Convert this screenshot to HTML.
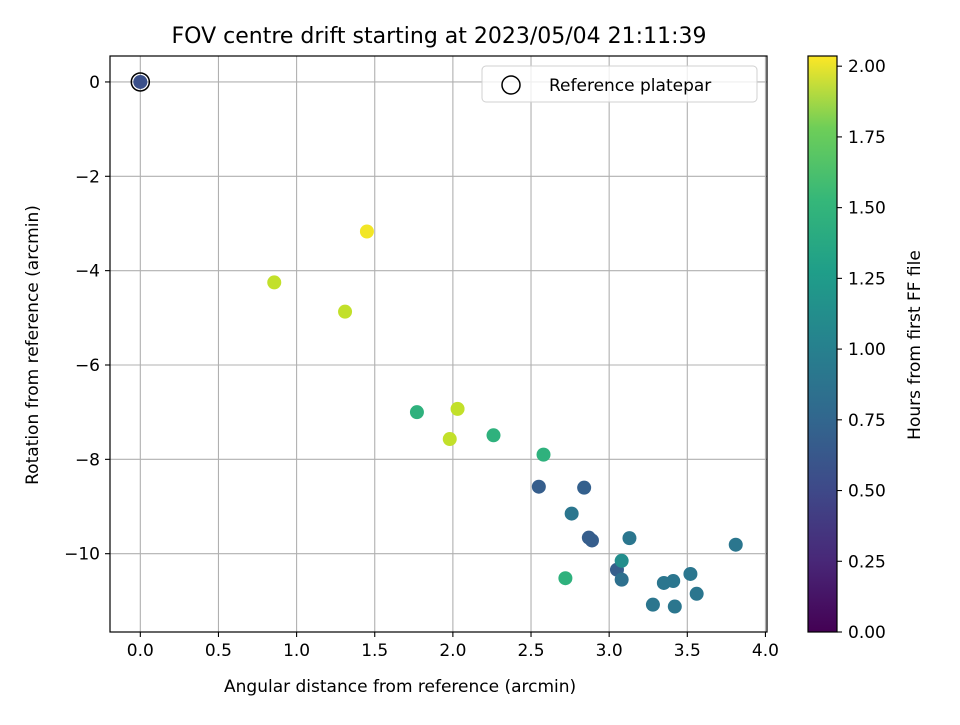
<!DOCTYPE html>
<html><head><meta charset="utf-8"><style>
body{margin:0;background:#fff;font-family:"Liberation Sans","DejaVu Sans",sans-serif}
svg text{font-family:"DejaVu Sans","Liberation Sans",sans-serif;fill:#000}
</style></head><body>
<svg id="chart" width="960" height="720" xmlns="http://www.w3.org/2000/svg">
<rect width="960" height="720" fill="#fff"/>
<text x="439" y="43" font-size="22" text-anchor="middle">FOV centre drift starting at 2023/05/04 21:11:39</text>
<g id="grid"></g><g id="pts"></g><g id="axes"></g>
<g>
<rect x="482" y="66" width="275" height="36" rx="4" fill="#fff" fill-opacity="0.8" stroke="#d0d0d0"/>
<circle cx="511" cy="85" r="9" fill="none" stroke="#000" stroke-width="1.5"/>
<text x="549" y="91" font-size="17">Reference platepar</text>
</g>
<defs><linearGradient id="vir" x1="0" y1="1" x2="0" y2="0">
<stop offset="0" stop-color="#440154"/><stop offset="0.125" stop-color="#482878"/><stop offset="0.25" stop-color="#3e4a89"/><stop offset="0.375" stop-color="#31688e"/><stop offset="0.5" stop-color="#26828e"/><stop offset="0.625" stop-color="#1f9e89"/><stop offset="0.75" stop-color="#35b779"/><stop offset="0.875" stop-color="#6ece58"/><stop offset="1" stop-color="#fde725"/>
</linearGradient></defs>
<g id="cbar"></g>
<text x="224" y="692" font-size="17">Angular distance from reference (arcmin)</text>
<text transform="translate(38,345) rotate(-90)" font-size="17" text-anchor="middle">Rotation from reference (arcmin)</text>
<text transform="translate(920,345) rotate(-90)" font-size="17" text-anchor="middle">Hours from first FF file</text>
</svg>
<script>
const xVals=[0,1.45,0.857,1.31,1.77,2.03,1.98,2.26,2.58,2.55,2.84,2.76,2.89,2.87,3.13,3.81,3.05,3.08,3.08,2.72,3.35,3.41,3.52,3.56,3.28,3.42];
const yVals=[0,-3.17,-4.25,-4.87,-7.0,-6.93,-7.57,-7.49,-7.9,-8.58,-8.6,-9.15,-9.72,-9.66,-9.67,-9.81,-10.34,-10.15,-10.55,-10.52,-10.62,-10.58,-10.43,-10.85,-11.08,-11.12];
const hours=[0.5,2.0,1.85,1.85,1.3,1.85,1.85,1.3,1.3,0.6,0.62,0.8,0.6,0.6,0.8,0.8,0.6,1.0,0.75,1.3,0.8,0.8,0.8,0.8,0.8,0.8];
const xTicks=[0,0.5,1,1.5,2,2.5,3,3.5,4];
const yTicks=[0,-2,-4,-6,-8,-10];
const cTicks=[0,0.25,0.5,0.75,1,1.25,1.5,1.75,2];
const L=110,R=767,T=56,B=632,XMIN=-0.194,XMAX=4.01,YMAX=0.55,YMIN=-11.66;
const CX=808,CW=29,CT=56,CB=632,CMAX=2.036;
const sx=v=>L+(v-XMIN)/(XMAX-XMIN)*(R-L);
const sy=v=>T+(YMAX-v)/(YMAX-YMIN)*(B-T);
const sc=v=>CB-v/CMAX*(CB-CT);
const NS="http://www.w3.org/2000/svg";
function mk(p,t,a){const e=document.createElementNS(NS,t);for(const k in a)e.setAttribute(k,a[k]);p.appendChild(e);return e;}
const vir=[[68,1,84],[72,40,120],[62,74,137],[49,104,142],[38,130,142],[31,158,137],[53,183,121],[110,206,88],[181,222,43],[253,231,37]];
function col(h){let t=Math.max(0,Math.min(1,h/CMAX))*(vir.length-1);let i=Math.min(Math.floor(t),vir.length-2),f=t-i;const c=vir[i].map((a,k)=>Math.round(a+(vir[i+1][k]-a)*f));return `rgb(${c})`;}
const g=document.getElementById('grid'),ax=document.getElementById('axes'),pg=document.getElementById('pts'),cb=document.getElementById('cbar');
xTicks.forEach(v=>{const x=sx(v);
let l=mk(g,'line',{x1:x,x2:x,y1:T,y2:B,stroke:'#b0b0b0','stroke-width':1.1});


mk(ax,'line',{x1:x,x2:x,y1:B,y2:B+5,stroke:'#000','stroke-width':1.1});
let t=mk(ax,'text',{x:x,y:B+24,'font-size':17,'text-anchor':'middle'});t.textContent=v.toFixed(1);

});
yTicks.forEach(v=>{const y=sy(v);
let l=mk(g,'line',{x1:L,x2:R,y1:y,y2:y,stroke:'#b0b0b0','stroke-width':1.1});


mk(ax,'line',{x1:L-5,x2:L,y1:y,y2:y,stroke:'#000','stroke-width':1.1});
let t=mk(ax,'text',{x:L-10,y:y+6,'font-size':17,'text-anchor':'end'});t.textContent=v===0?'0':'\u2212'+Math.abs(v);

});
let fr=mk(ax,'rect',{x:L,y:T,width:R-L,height:B-T,fill:'none',stroke:'#000','stroke-width':1.2});


xVals.forEach((v,i)=>{const c=mk(pg,'circle',{cx:sx(v),cy:sy(yVals[i]),r:7,fill:col(hours[i])});

});
let ref=mk(pg,'circle',{cx:sx(0),cy:sy(0),r:9,fill:'none',stroke:'#000','stroke-width':1.5});


let cr=mk(cb,'rect',{x:CX,y:CT,width:CW,height:CB-CT,fill:'url(#vir)',stroke:'#000','stroke-width':1.2});


cTicks.forEach(v=>{const y=sc(v);
mk(cb,'line',{x1:CX+CW,x2:CX+CW+5,y1:y,y2:y,stroke:'#000','stroke-width':1.1});
let t=mk(cb,'text',{x:CX+CW+11,y:y+6,'font-size':17});t.textContent=v.toFixed(2);

});
</script>
</body></html>
